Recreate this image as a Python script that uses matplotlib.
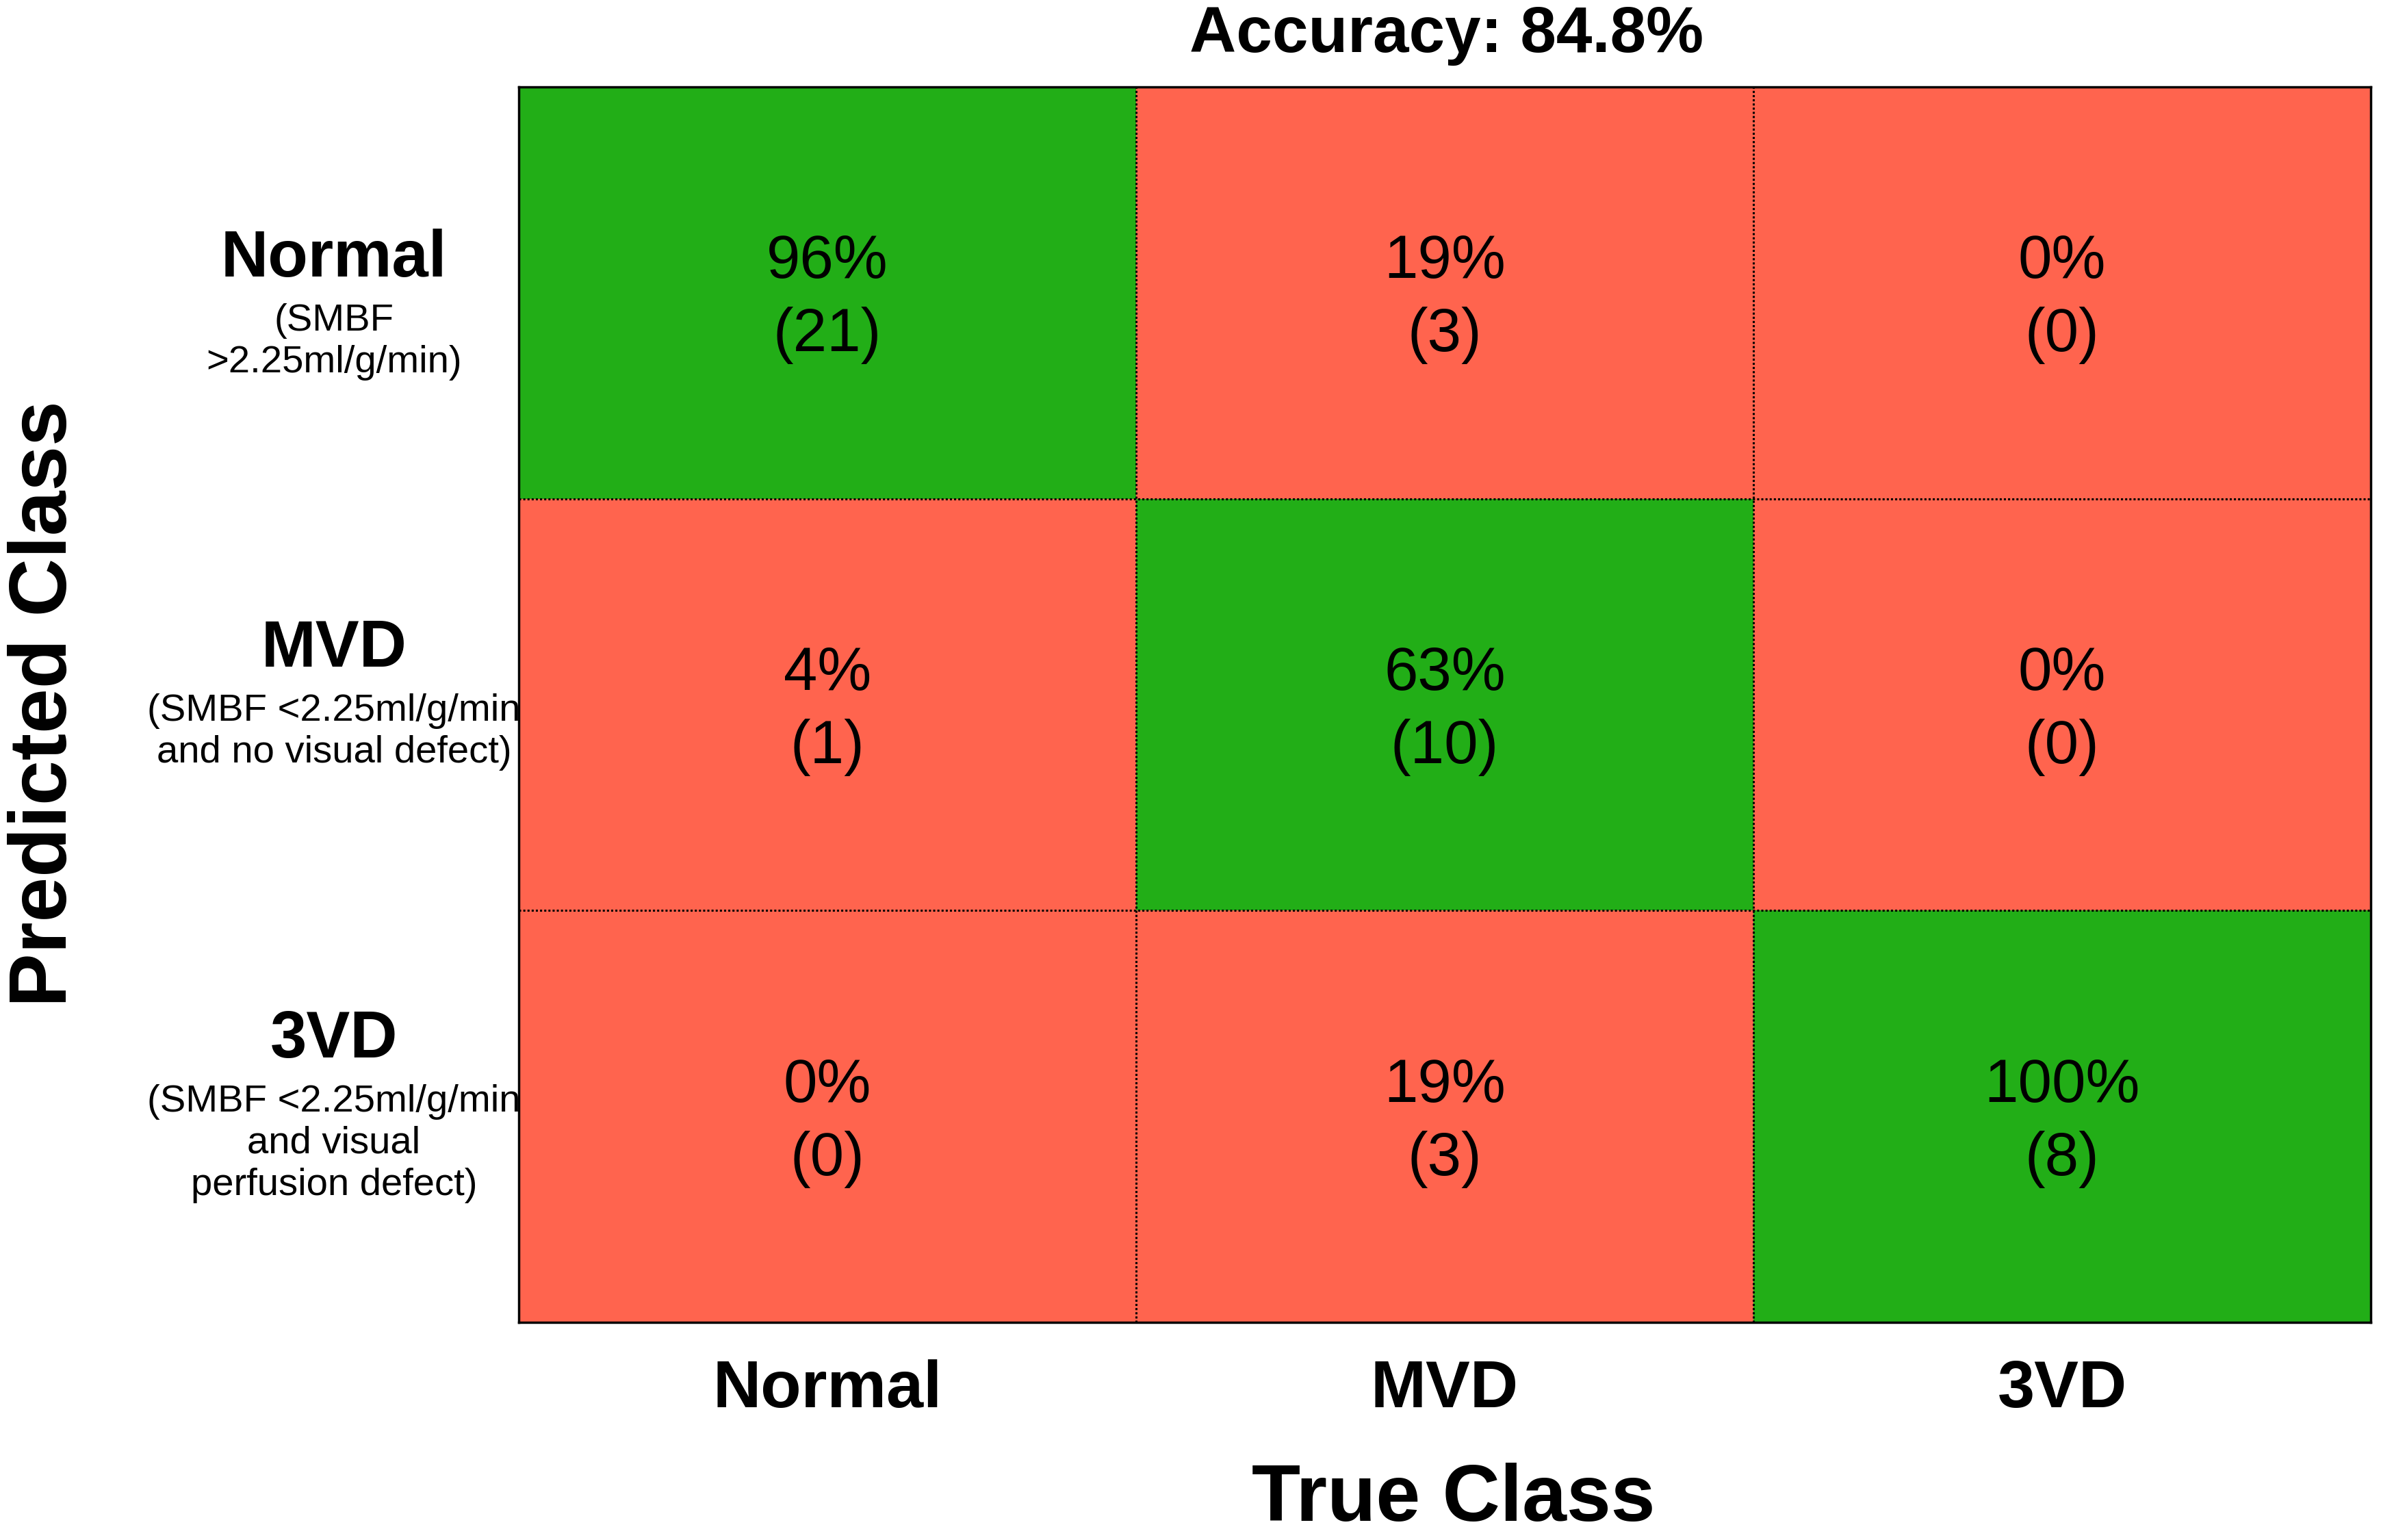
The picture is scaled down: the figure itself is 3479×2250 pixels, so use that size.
import matplotlib
matplotlib.use('Agg')
import matplotlib.pyplot as plt
import matplotlib.transforms as mtransforms
from matplotlib.colors import ListedColormap
import numpy as np

# ---- data ----
true_classes = ['Normal', 'MVD', '3VD']
pred_classes = ['Normal', 'MVD', '3VD']
pred_subtitles = ['(SMBF\n>2.25ml/g/min)',
                  '(SMBF <2.25ml/g/min\nand no visual defect)',
                  '(SMBF <2.25ml/g/min\nand visual\nperfusion defect)']
counts = [[21, 3, 0],
          [1, 10, 0],
          [0, 3, 8]]
percents = [[96, 19, 0],
            [4, 63, 0],
            [0, 19, 100]]
accuracy = 84.8

# ---- layout ----
W, H = 3480, 2250
plt.rcParams['font.family'] = ['Liberation Sans', 'DejaVu Sans']
fig = plt.figure(figsize=(W / 100, H / 100), dpi=100)
fig.patch.set_facecolor('white')

def fx(x):
    return x / W

def fy(y):
    return 1 - y / H

ax_l, ax_r, ax_t, ax_b = 758, 3464, 127, 1932
ax = fig.add_axes([fx(ax_l), fy(ax_b), (ax_r - ax_l) / W, (ax_b - ax_t) / H])

n = len(true_classes)
correct = (np.arange(n)[:, None] == np.arange(n)[None, :]).astype(int)
cmap = ListedColormap(['#FF644E', '#22AE17'])
ax.pcolormesh(np.arange(n + 1), np.arange(n + 1), correct, cmap=cmap,
              vmin=0, vmax=1, shading='flat')
ax.set_xlim(0, n)
ax.set_ylim(n, 0)
for k in range(1, n):
    ax.axhline(k, color='black', lw=2.2, ls=(0, (1, 1)))
    ax.axvline(k, color='black', lw=2.2, ls=(0, (1, 1)))
for s in ax.spines.values():
    s.set_linewidth(2.5)
    s.set_color('black')
ax.set_xticks([])
ax.set_yticks([])

# cell annotations (shifted slightly below the cell centre, as in the original)
cell_off = mtransforms.offset_copy(ax.transData, fig=fig, x=0, y=-9, units='dots')
for i in range(n):
    for j in range(n):
        ax.text(j + 0.5, i + 0.5, f"{percents[i][j]}%\n({counts[i][j]})",
                transform=cell_off, ha='center', va='center', fontsize=64,
                linespacing=1.35, color='black')

# x category labels
trans_x = mtransforms.blended_transform_factory(ax.transData, fig.transFigure)
for j, lab in enumerate(true_classes):
    ax.text(j + 0.5, fy(2031), lab, transform=trans_x, ha='center', va='center',
            fontsize=70, fontweight='bold')

# y category labels with subtitles
bold_y = [379, 949, 1520]
label_x = 488
for i, lab in enumerate(pred_classes):
    fig.text(fx(label_x), fy(bold_y[i]), lab, ha='center', va='center',
             fontsize=69, fontweight='bold')
    fig.text(fx(label_x), fy(bold_y[i] + 64), pred_subtitles[i], ha='center',
             va='top', fontsize=40.5, linespacing=1.22)

fig.text(fx(2124), fy(2246), 'True Class', ha='center', va='bottom',
         fontsize=84, fontweight='bold')
fig.text(fx(66), fy(1028), 'Predicted Class', ha='center', va='center',
         rotation=90, fontsize=85, fontweight='bold')
fig.text(fx(2114), fy(51), f'Accuracy: {accuracy}%', ha='center', va='center',
         fontsize=68, fontweight='bold')

fig.savefig('out.png', dpi=100, facecolor='white')
